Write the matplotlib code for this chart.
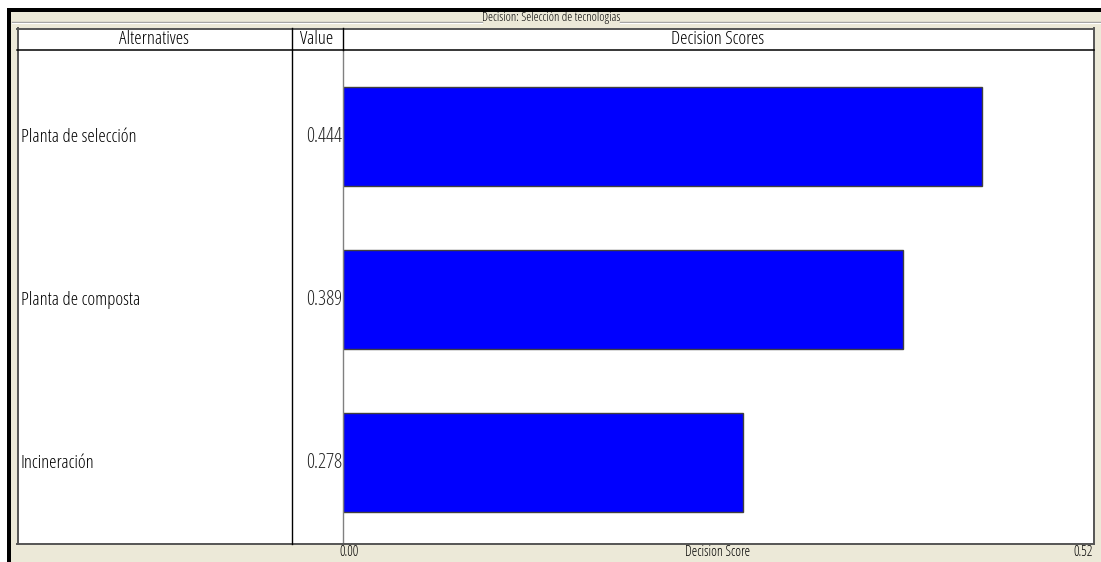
import matplotlib
matplotlib.use("Agg")
import matplotlib.pyplot as plt
from matplotlib.patches import Rectangle
from matplotlib.lines import Line2D
import matplotlib.transforms as mtransforms

# ---- data ----
title = "Decision: Selección de tecnologías"
alternatives = ["Planta de selección", "Planta de composta", "Incineración"]
values = [0.444, 0.389, 0.278]
value_labels = ["0.444", "0.389", "0.278"]
col_headers = ["Alternatives", "Value", "Decision Scores"]
axis_min_label = "0.00"
axis_max_label = "0.52"
axis_title = "Decision Score"

W, H = 1101, 562
FONT = ["Open Sans", "DejaVu Sans"]
STRETCH = "condensed"
BEIGE = "#ECE9D8"

fig = plt.figure(figsize=(W / 100, H / 100), dpi=100, facecolor="white")

def fx(x):
    return x / W

def fy(y):
    return 1 - y / H

def frect(x0, y0, x1, y1, **kw):
    r = Rectangle((fx(x0), fy(y1)), fx(x1) - fx(x0), fy(y0) - fy(y1),
                  transform=fig.transFigure, **kw)
    fig.add_artist(r)
    return r

def fline(x0, y0, x1, y1, **kw):
    fig.add_artist(Line2D([fx(x0), fx(x1)], [fy(y0), fy(y1)],
                          transform=fig.transFigure, **kw))

def ftext(x, y, s, **kw):
    kw.setdefault("family", FONT)
    kw.setdefault("fontstretch", STRETCH)
    kw.setdefault("color", "black")
    return fig.text(x, y, s, **kw)

# window frame
frect(7, 8, W, H, facecolor="black", edgecolor="none", zorder=0)
frect(11, 12, W, H, facecolor=BEIGE, edgecolor="none", zorder=0.5)

# group box line with title
ftext(fx(551), fy(17), title, ha="center", va="center", fontsize=9, zorder=3)
fline(12, 21.5, 482, 21.5, color="#A0A0A0", lw=1, zorder=1)
fline(620, 21.5, W, 21.5, color="#A0A0A0", lw=1, zorder=1)
fline(12, 22.5, 482, 22.5, color="white", lw=0.8, zorder=1)
fline(620, 22.5, W, 22.5, color="white", lw=0.8, zorder=1)

# white table box
frect(17, 28, 1094, 544, facecolor="white", edgecolor="none", zorder=1)
fline(17, 28.5, 1094, 28.5, color="#555555", lw=1.4, zorder=4)
fline(17.5, 28, 17.5, 544, color="#555555", lw=1.4, zorder=4)
fline(1093.5, 28, 1093.5, 544, color="#555555", lw=1.4, zorder=4)
fline(17, 543.5, 1094, 543.5, color="#555555", lw=1.4, zorder=4)
fline(17, 50, 1094, 50, color="black", lw=1.1, zorder=4)
fline(291.5, 28, 291.5, 544, color="black", lw=1.0, zorder=4)
fline(343, 28, 343, 50, color="black", lw=1.0, zorder=4)

# headers
ftext(fx(154), fy(39.5), col_headers[0], ha="center", va="center",
      fontsize=13.5, zorder=5)
ftext(fx(317), fy(39.5), col_headers[1], ha="center", va="center",
      fontsize=13.5, zorder=5)
ftext(fx(718), fy(39.5), col_headers[2], ha="center", va="center",
      fontsize=13.5, zorder=5)

# bar axes
ax = fig.add_axes([fx(343), fy(544), fx(1094) - fx(343), fy(50) - fy(544)])
ax.set_facecolor("none")
ax.set_zorder(3)
ypos = list(range(len(alternatives)))
ax.barh(ypos, values, height=0.607, color="#0000FF", edgecolor="#404040",
        linewidth=1.0)
ax.set_xlim(0, 0.5215)
ax.set_ylim(2.5, -0.531)
for s in ["top", "right", "bottom"]:
    ax.spines[s].set_visible(False)
ax.spines["left"].set_color("#808080")
ax.spines["left"].set_linewidth(1.0)
ax.set_xticks([])
ax.set_yticks([])

# row labels through the axes' y scale
trans = mtransforms.blended_transform_factory(fig.transFigure, ax.transData)
for yi, name, vl in zip(ypos, alternatives, value_labels):
    ftext(fx(21), yi, name, transform=trans, ha="left", va="center",
          fontsize=13.5, zorder=5)
    ftext(fx(342), yi, vl, transform=trans, ha="right", va="center",
          fontsize=14.5, color="#222222", zorder=5)

# bottom axis labels
ftext(fx(339), fy(553), axis_min_label, ha="left", va="center", fontsize=10)
ftext(fx(718), fy(553), axis_title, ha="center", va="center", fontsize=10)
ftext(fx(1093), fy(553), axis_max_label, ha="right", va="center", fontsize=10)

fig.savefig("out.png", dpi=100, facecolor="white")
